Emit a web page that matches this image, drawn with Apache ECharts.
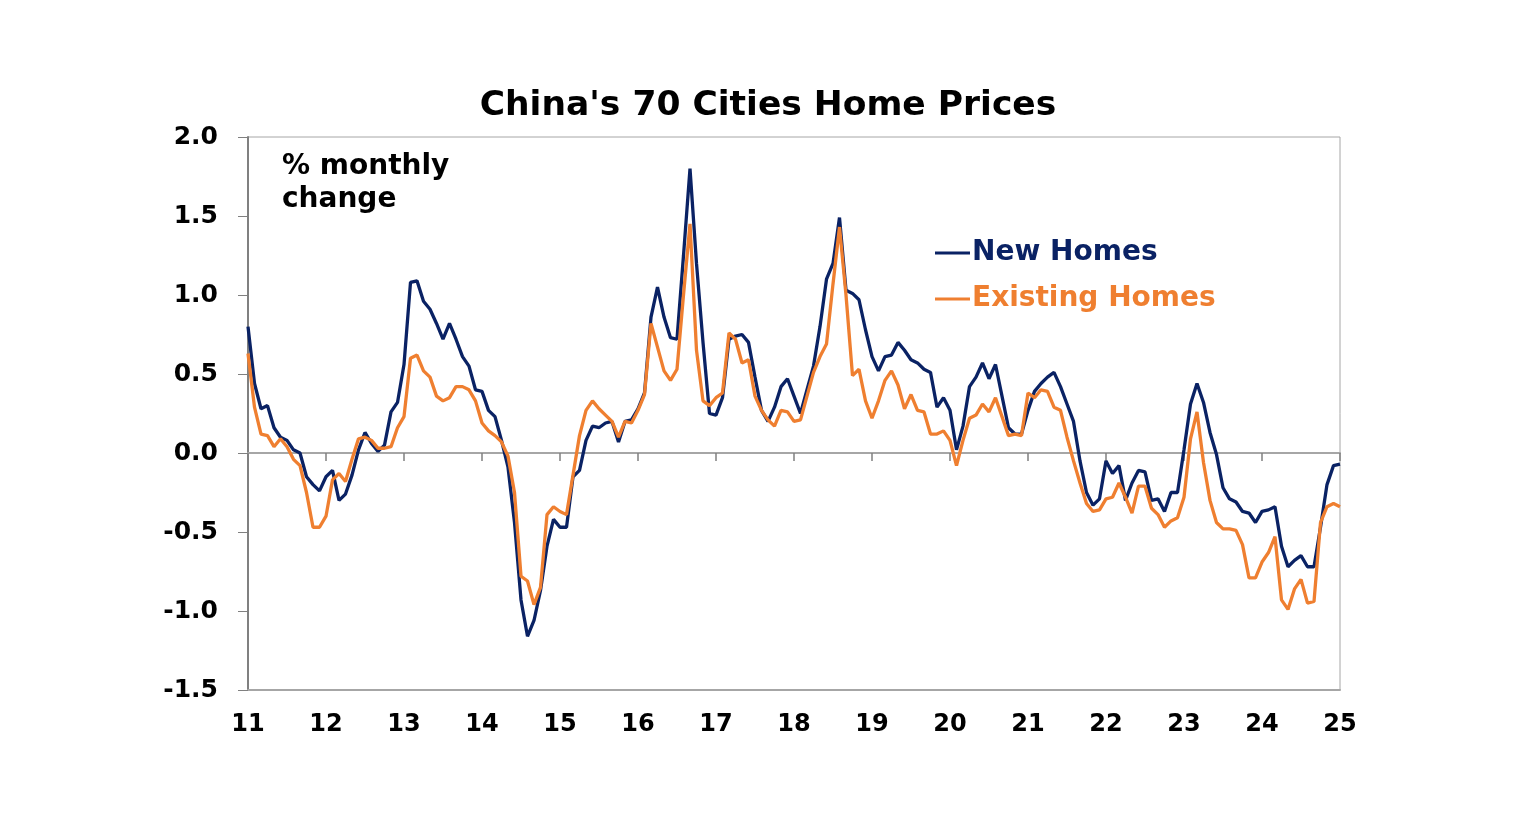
<!DOCTYPE html>
<html>
<head>
<meta charset="utf-8">
<script src="https://cdn.jsdelivr.net/npm/echarts@6/dist/echarts.min.js"></script>
<style>
html,body{margin:0;padding:0;background:#fff;}
#chart{width:1536px;height:822px;}
</style>
</head>
<body>
<div id="chart"></div>
<script>
// Year tick labels (2011..2025)
const yearLabels = ['11','12','13','14','15','16','17','18','19','20','21','22','23','24','25'];
const yTicks = [-1.5, -1.0, -0.5, 0.0, 0.5, 1.0, 1.5, 2.0];

// % monthly change, Jan 2011 .. Jan 2025
const newHomes = [
 0.80,0.44,0.28,0.30,0.16,0.10,0.08,0.02,0.00,-0.15,-0.20,-0.24,
 -0.15,-0.11,-0.30,-0.26,-0.14,0.02,0.13,0.06,0.01,0.05,0.26,0.32,
 0.56,1.08,1.09,0.96,0.91,0.82,0.72,0.82,0.72,0.61,0.55,0.40,
 0.39,0.27,0.23,0.08,-0.09,-0.44,-0.93,-1.16,-1.06,-0.87,-0.59,-0.42,
 -0.47,-0.47,-0.15,-0.11,0.08,0.17,0.16,0.19,0.20,0.07,0.20,0.21,
 0.28,0.38,0.86,1.05,0.86,0.73,0.72,1.25,1.80,1.20,0.70,0.25,
 0.24,0.35,0.72,0.74,0.75,0.70,0.48,0.27,0.20,0.29,0.42,0.47,
 0.36,0.25,0.40,0.55,0.80,1.10,1.20,1.49,1.03,1.01,0.97,0.78,
 0.61,0.52,0.61,0.62,0.70,0.65,0.59,0.57,0.53,0.51,0.29,0.35,
 0.27,0.02,0.17,0.42,0.48,0.57,0.47,0.56,0.36,0.16,0.12,0.12,
 0.27,0.39,0.44,0.48,0.51,0.42,0.31,0.20,-0.05,-0.25,-0.33,-0.29,
 -0.05,-0.13,-0.08,-0.30,-0.19,-0.11,-0.12,-0.30,-0.29,-0.37,-0.25,-0.25,
 0.02,0.31,0.44,0.32,0.13,-0.01,-0.22,-0.29,-0.31,-0.37,-0.38,-0.44,
 -0.37,-0.36,-0.34,-0.59,-0.72,-0.68,-0.65,-0.72,-0.72,-0.47,-0.20,-0.08,
 -0.07
];
const existingHomes = [
 0.63,0.29,0.12,0.11,0.04,0.09,0.04,-0.04,-0.08,-0.25,-0.47,-0.47,
 -0.40,-0.17,-0.13,-0.18,-0.04,0.09,0.10,0.08,0.03,0.03,0.04,0.16,
 0.23,0.60,0.62,0.52,0.48,0.36,0.33,0.35,0.42,0.42,0.40,0.33,
 0.19,0.14,0.11,0.07,-0.02,-0.25,-0.78,-0.81,-0.96,-0.85,-0.39,-0.34,
 -0.37,-0.39,-0.14,0.11,0.27,0.33,0.28,0.24,0.20,0.10,0.20,0.19,
 0.27,0.37,0.82,0.67,0.52,0.46,0.53,1.00,1.45,0.65,0.33,0.30,
 0.35,0.38,0.76,0.72,0.57,0.59,0.36,0.27,0.21,0.17,0.27,0.26,
 0.20,0.21,0.36,0.51,0.61,0.69,1.07,1.43,1.00,0.49,0.53,0.33,
 0.22,0.33,0.46,0.52,0.43,0.28,0.37,0.27,0.26,0.12,0.12,0.14,
 0.08,-0.08,0.08,0.22,0.24,0.31,0.26,0.35,0.23,0.11,0.12,0.11,
 0.38,0.35,0.40,0.39,0.29,0.27,0.10,-0.05,-0.19,-0.32,-0.37,-0.36,
 -0.29,-0.28,-0.19,-0.28,-0.38,-0.21,-0.21,-0.35,-0.39,-0.47,-0.43,-0.41,
 -0.28,0.09,0.26,-0.06,-0.30,-0.44,-0.48,-0.48,-0.49,-0.58,-0.79,-0.79,
 -0.69,-0.63,-0.53,-0.93,-0.99,-0.86,-0.80,-0.95,-0.94,-0.44,-0.34,-0.32,
 -0.34
];

// monthly categories built from year labels
const categories = [];
yearLabels.forEach((y, yi) => {
  const nMonths = (yi === yearLabels.length - 1) ? 1 : 12;
  for (let m = 1; m <= nMonths; m++) categories.push(y + '-' + (m < 10 ? '0' + m : m));
});

const NAVY = '#0a2264';
const ORANGE = '#ef7f30';
const FONT = 'DejaVu Sans';

const chart = echarts.init(document.getElementById('chart'));
chart.setOption({
  animation: false,
  backgroundColor: '#fff',
  title: {
    text: "China's 70 Cities Home Prices",
    left: 'center',
    top: 89,
    padding: [0, 12, 0, 0],
    textStyle: { fontFamily: FONT, fontSize: 34.5, fontWeight: 'bold', color: '#000' }
  },
  legend: {
    orient: 'vertical',
    left: 935,
    top: 239,
    padding: 0,
    icon: 'rect',
    itemWidth: 35,
    itemHeight: 3,
    itemGap: 18,
    selectedMode: false,
    textStyle: { fontFamily: FONT, fontSize: 28, fontWeight: 'bold', padding: [0, 0, 0, -3] },
    data: [
      { name: 'New Homes', textStyle: { color: NAVY } },
      { name: 'Existing Homes', textStyle: { color: ORANGE } }
    ]
  },
  graphic: [{
    type: 'text',
    left: 282,
    top: 150,
    style: {
      text: '% monthly\nchange',
      font: 'bold 28px "DejaVu Sans"',
      lineHeight: 33,
      fill: '#000'
    }
  }],
  grid: {
    left: 248, right: 196, top: 137, bottom: 132,
    show: true, borderColor: '#a6a6a6', borderWidth: 1, backgroundColor: 'transparent'
  },
  xAxis: [{
    type: 'category',
    data: categories,
    boundaryGap: false,
    position: 'bottom',
    axisLine: { onZero: false, lineStyle: { color: '#a6a6a6', width: 2 } },
    axisTick: { show: false },
    axisLabel: {
      interval: 11,
      formatter: (v) => v.split('-')[0],
      fontFamily: FONT, fontSize: 24, fontWeight: 'bold', color: '#000', margin: 23
    },
    splitLine: { show: false }
  }, {
    type: 'category',
    data: categories,
    boundaryGap: false,
    position: 'bottom',
    axisLine: { show: true, onZero: true, lineStyle: { color: '#a6a6a6', width: 2 } },
    axisTick: { show: true, interval: 11, length: 8, lineStyle: { color: '#808080', width: 1.5 } },
    axisLabel: { show: false, interval: 11 },
    splitLine: { show: false }
  }],
  yAxis: {
    type: 'value',
    min: yTicks[0], max: yTicks[yTicks.length - 1], interval: 0.5,
    axisLine: { show: true, lineStyle: { color: '#808080', width: 2 } },
    axisTick: { show: true, length: 10, lineStyle: { color: '#808080' } },
    axisLabel: {
      formatter: (v) => v.toFixed(1),
      fontFamily: FONT, fontSize: 25, fontWeight: 'bold', color: '#000', margin: 30
    },
    splitLine: { show: false }
  },
  series: [{
    name: 'New Homes',
    type: 'line',
    xAxisIndex: 0,
    data: newHomes,
    symbol: 'none',
    lineStyle: { color: NAVY, width: 3.3 },
    itemStyle: { color: NAVY },
    z: 3
  }, {
    name: 'Existing Homes',
    type: 'line',
    xAxisIndex: 0,
    data: existingHomes,
    symbol: 'none',
    lineStyle: { color: ORANGE, width: 3.3 },
    itemStyle: { color: ORANGE },
    z: 4
  }]
});
</script>
</body>
</html>
